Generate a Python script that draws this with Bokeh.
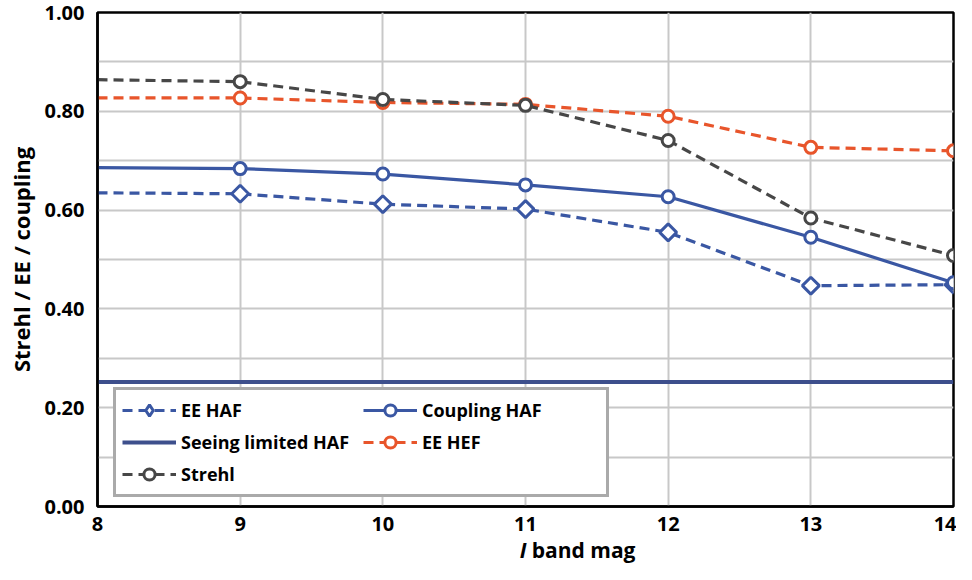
import math
from bokeh.plotting import figure
from bokeh.layouts import column
from bokeh.models import (FixedTicker, NumeralTickFormatter, Legend, LegendItem, Range1d)
from bokeh.core.properties import value
from bokeh.embed import file_html
from bokeh.resources import INLINE

# ---- data ----
mag = [8, 9, 10, 11, 12, 13, 14]
x_ticks = [8, 9, 10, 11, 12, 13, 14]
y_ticks = [0.0, 0.2, 0.4, 0.6, 0.8, 1.0]
y_minor = [0.1, 0.3, 0.5, 0.7, 0.9]

ee_haf = [0.635, 0.633, 0.612, 0.602, 0.555, 0.447, 0.449]
coupling_haf = [0.686, 0.684, 0.673, 0.651, 0.627, 0.545, 0.453]
seeing_haf = [0.252, 0.252, 0.252, 0.252, 0.252, 0.252, 0.252]
ee_hef = [0.827, 0.827, 0.818, 0.814, 0.790, 0.727, 0.720]
strehl = [0.864, 0.860, 0.824, 0.812, 0.741, 0.584, 0.508]

x_title_italic = "I"
x_title_rest = "band mag"

BLUE = "#3a57a3"
NAVY = "#3d4f8c"
ORANGE = "#e8552b"
GRAY = "#474747"
FONT = "Open Sans"

p = figure(frame_width=856, frame_height=494, x_range=(8, 14), y_range=(0, 1),
           output_backend="svg", toolbar_location=None,
           min_border_left=97, min_border_right=3, min_border_top=12, min_border_bottom=30)
# range used only so that the legend's diamond swatch is not drawn inside the plot
p.extra_y_ranges = {"legend_only": Range1d(10, 11)}

p.background_fill_color = "white"
p.border_fill_color = "white"
p.outline_line_color = "black"
p.outline_line_width = 2.5

# grids
p.xgrid.ticker = FixedTicker(ticks=x_ticks)
p.ygrid.ticker = FixedTicker(ticks=y_ticks, minor_ticks=y_minor)
for g in (p.xgrid, p.ygrid):
    g.grid_line_color = "#c8c8c8"
    g.grid_line_width = 2
p.ygrid.minor_grid_line_color = "#c8c8c8"
p.ygrid.minor_grid_line_width = 2

# axes
p.xaxis.ticker = FixedTicker(ticks=x_ticks)
p.yaxis.ticker = FixedTicker(ticks=y_ticks)
p.yaxis.formatter = NumeralTickFormatter(format="0.00")
for ax in (p.xaxis[0], p.yaxis[0]):
    ax.axis_line_color = "black"
    ax.axis_line_width = 2.5
    ax.major_tick_line_color = None
    ax.minor_tick_line_color = None
    ax.major_label_text_font = FONT
    ax.major_label_text_font_style = "bold"
    ax.major_label_text_font_size = "20px"
    ax.major_label_text_color = "black"
p.yaxis.major_label_standoff = 7
p.xaxis.major_label_standoff = 4
p.yaxis.axis_label = "Strehl / EE / coupling"
p.yaxis.axis_label_text_font = FONT
p.yaxis.axis_label_text_font_style = "bold"
p.yaxis.axis_label_text_font_size = "22px"
p.yaxis.axis_label_text_color = "black"
p.yaxis.axis_label_standoff = 5

# series
lw = 3.2
dash = "10 6"
r_seeing = p.line(mag, seeing_haf, line_color=NAVY, line_width=4)

l_ee_haf = p.line(mag, ee_haf, line_color=BLUE, line_width=lw, line_dash=dash)
m_ee_haf = p.scatter(mag[1:], ee_haf[1:], marker="square", angle=math.pi / 4, size=12,
                     fill_color="white", line_color=BLUE, line_width=3)
# legend swatch (legend glyphs are drawn unrotated, so use a diamond marker here)
leg_ee_haf = p.scatter(mag[1:], ee_haf[1:], y_range_name="legend_only",
                       marker="diamond", size=12, fill_color="white",
                       line_color=BLUE, line_width=3)

l_coup = p.line(mag, coupling_haf, line_color=BLUE, line_width=lw)
m_coup = p.scatter(mag[1:], coupling_haf[1:], marker="circle", size=12, fill_color="white",
                   line_color=BLUE, line_width=3)

l_hef = p.line(mag, ee_hef, line_color=ORANGE, line_width=lw, line_dash=dash)
m_hef = p.scatter(mag[1:], ee_hef[1:], marker="circle", size=12, fill_color="white",
                  line_color=ORANGE, line_width=3)

l_str = p.line(mag, strehl, line_color=GRAY, line_width=lw, line_dash=dash)
m_str = p.scatter(mag[1:], strehl[1:], marker="circle", size=12, fill_color="white",
                  line_color=GRAY, line_width=3)

legend = Legend(items=[
    LegendItem(label="EE HAF", renderers=[l_ee_haf, leg_ee_haf]),
    LegendItem(label="Coupling HAF", renderers=[l_coup, m_coup]),
    LegendItem(label="Seeing limited HAF", renderers=[r_seeing]),
    LegendItem(label="EE HEF", renderers=[l_hef, m_hef]),
    LegendItem(label="Strehl", renderers=[l_str, m_str]),
], location=(16, 9), orientation="horizontal", ncols=2)
legend.label_text_font = FONT
legend.label_text_font_style = "bold"
legend.label_text_font_size = "18px"
legend.label_text_color = "black"
legend.glyph_width = 54
legend.glyph_height = 28
legend.label_height = 20
legend.label_width = 178
legend.label_standoff = 5
legend.spacing = 4
legend.padding = 6
legend.margin = 0
legend.border_line_color = "#555555"
legend.border_line_width = 3.5
legend.background_fill_color = "white"
legend.background_fill_alpha = 1
p.add_layout(legend, "center")

# x-axis title strip (mixed italic / bold text)
t = figure(width=956, height=28, x_range=(0, 956), y_range=(0, 28),
           x_axis_type=None, y_axis_type=None, output_backend="svg",
           toolbar_location=None, min_border=0)
t.outline_line_color = None
t.grid.visible = False
t.background_fill_color = "white"
t.border_fill_color = "white"
xc = 97 + 856 / 2
t.text(x=[xc - 46], y=[15], text=[x_title_italic], text_font=value(FONT),
       text_font_style="bold italic", text_font_size="21px", text_align="right",
       text_baseline="middle", text_color="black")
t.text(x=[xc - 40], y=[15], text=[x_title_rest], text_font=value(FONT),
       text_font_style="bold", text_font_size="21px", text_align="left",
       text_baseline="middle", text_color="black")

layout = column(p, t, spacing=0)
open("out.html", "w").write(file_html(layout, INLINE))
